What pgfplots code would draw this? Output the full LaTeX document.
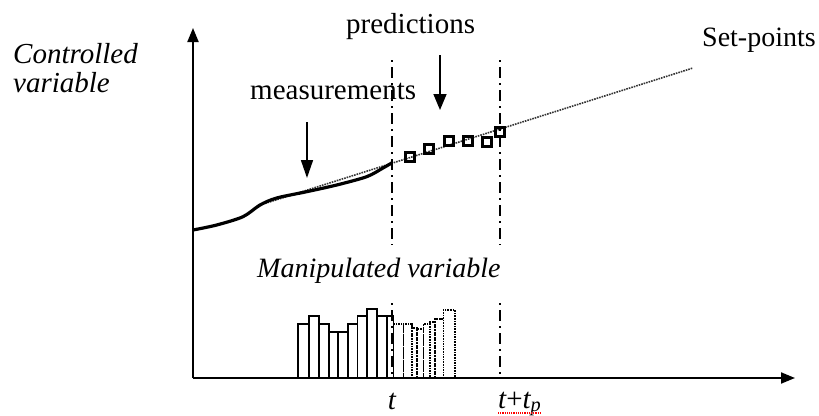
\documentclass[border=0pt]{standalone}
\usepackage{fontspec}
\setmainfont{Liberation Serif}
\usepackage{pgfplots}
\pgfplotsset{compat=1.18}
\usetikzlibrary{arrows.meta}

% bar outlines of the manipulated variable (left edge, height)
\pgfplotstableread{
x     h
105.3 54
116.0 62
126.3 54
136.0 46
145.3 46
155.3 54
164.7 62
174.3 69
183.7 62
193.7 62
200.3 0
}\pastmoves
\pgfplotstableread{
x     h
200.3 54
210.3 54
218.7 50
223.7 49
230.3 54
237.0 56
242.0 59
250.3 68
262.0 0
}\futuremoves

\tikzset{lab/.style={inner sep=0pt, font=\fontsize{29bp}{32bp}\selectfont}}

\begin{document}
\begin{tikzpicture}
\begin{axis}[
    at={(0,0)}, anchor=south west,
    scale only axis,
    width=602bp, height=350bp,
    xmin=0, xmax=602, ymin=0, ymax=350,
    axis lines*=left,
    axis line style={line width=2bp, -{Triangle[length=14bp,width=11bp]}},
    xtick=\empty, ytick=\empty,
    clip=false,
]

% set-point trajectory
\addplot[line width=1.6bp, densely dotted, black!80] coordinates {(67,173) (500,310)};

% measurements
\addplot[line width=3.2bp, black, smooth, tension=0.5] coordinates {
    (0,148) (23.7,153) (50,161.3) (67,173) (83.7,180) (113.7,186.3)
    (143.7,193) (173.7,201.3) (190,210) (198.7,215)
};

% predictions
\addplot[only marks, mark=square, mark size=4.5bp, line width=2.8bp, black]
coordinates {(217,221) (236,229) (256,237) (275,237) (294,236) (307,246)};

% time lines at t and t+tp
\addplot[line width=2bp, dash pattern=on 2bp off 5bp on 11bp off 5bp] coordinates {(199,318) (199,133)};
\addplot[line width=2bp, dash pattern=on 2bp off 5bp on 11bp off 5bp] coordinates {(307,318) (307,133)};
\addplot[line width=2bp, dash pattern=on 2bp off 5bp on 11bp off 5bp] coordinates {(199,75) (199,0)};
\addplot[line width=2bp, dash pattern=on 2bp off 5bp on 11bp off 5bp] coordinates {(307,75) (307,0)};

% manipulated variable moves
\addplot[ybar interval, line width=1.6bp, black, fill=none] table[x=x, y=h] {\pastmoves};
\addplot[ybar interval, line width=1.6bp, densely dotted, black, fill=none] table[x=x, y=h] {\futuremoves};

% annotations
\draw[line width=1.6bp, -{Triangle[length=18bp,width=12bp]}] (axis cs:114,256) -- (axis cs:114,200);
\draw[line width=1.6bp, -{Triangle[length=16bp,width=13bp]}] (axis cs:247,323) -- (axis cs:247,268);

\node[lab, anchor=base west] at (axis cs:-180,315) {\itshape Controlled};
\node[lab, anchor=base west] at (axis cs:-180,286) {\itshape variable};
\node[lab, anchor=base west] at (axis cs:57,279) {measurements};
\node[lab, anchor=base west] at (axis cs:153,345) {predictions};
\node[lab, anchor=base west, font=\fontsize{28bp}{31bp}\selectfont] at (axis cs:509,332) {Set-points};
\node[lab, anchor=base west, font=\fontsize{28bp}{31bp}\selectfont] at (axis cs:64,101) {\itshape Manipulated variable};
\node[lab, anchor=base] at (axis cs:199,-31) {\itshape t};
\node[lab, anchor=base west] at (axis cs:305,-30) {\itshape t\upshape+\itshape t\textsubscript{p}};
\draw[red, line width=1.2bp, densely dotted] (axis cs:305,-35) -- (axis cs:347,-35);
\end{axis}
\pgfresetboundingbox
\path[use as bounding box] (-193bp,-38bp) rectangle (626bp,378bp);
\end{tikzpicture}
\end{document}
